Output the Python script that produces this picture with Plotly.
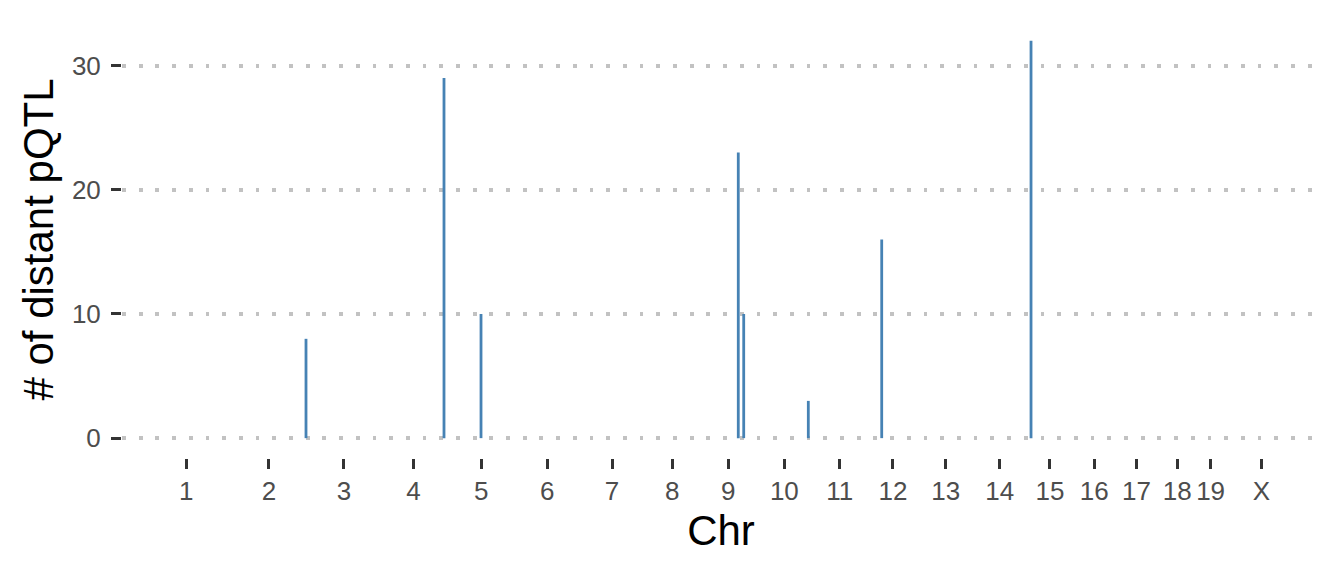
import numpy as np
import plotly.graph_objects as go

# chromosome lengths (Mb), in order
chroms = ["1", "2", "3", "4", "5", "6", "7", "8", "9", "10",
          "11", "12", "13", "14", "15", "16", "17", "18", "19", "X"]
chr_len = [195, 182, 160, 157, 152, 150, 145, 130, 125, 131,
           122, 120, 121, 125, 104, 98, 95, 91, 61, 171]

# hotspots: chromosome, position within chromosome (Mb), # of distant pQTL
hot_chr = ["2", "4", "5", "9", "9", "10", "12", "15"]
hot_pos = [175.6, 148.3, 75.7, 85.4, 97.8, 120.1, 34.5, 9.0]
hot_n = [8, 29, 10, 23, 10, 3, 16, 32]

# cumulative genome coordinates
chr_start = dict(zip(chroms, np.concatenate([[0], np.cumsum(chr_len)[:-1]])))
chr_mid = [chr_start[c] + l / 2 for c, l in zip(chroms, chr_len)]
hot_x = [chr_start[c] + p for c, p in zip(hot_chr, hot_pos)]

xs, ys = [], []
for x, n in zip(hot_x, hot_n):
    xs += [x, x, None]
    ys += [0, n, None]

fig = go.Figure()
fig.add_trace(go.Scatter(x=xs, y=ys, mode="lines",
                         line=dict(color="#4682B4", width=2.8),
                         showlegend=False, hoverinfo="skip"))

font = "Liberation Sans, Arial, Helvetica, sans-serif"

fig.update_layout(
    width=1344, height=576,
    margin=dict(l=114, r=32, t=13, b=126),
    plot_bgcolor="white", paper_bgcolor="white",
    font=dict(family=font),
    xaxis=dict(
        range=[-49, 2683],
        tickmode="array", tickvals=chr_mid, ticktext=chroms,
        showgrid=False, zeroline=False, showline=False,
        ticks="outside", ticklen=10, tickwidth=3, tickcolor="#333333",
        tickfont=dict(size=26, color="#4D4D4D"),
        title=dict(text="Chr", font=dict(size=42, color="black"), standoff=10),
    ),
    yaxis=dict(
        range=[-1.6, 33.6],
        tickvals=[0, 10, 20, 30],
        showgrid=True, gridcolor="#C2C2C2", gridwidth=3.8, griddash="3.8px,12.9px",
        zeroline=False, showline=False,
        ticks="outside", ticklen=10, tickwidth=3, tickcolor="#333333",
        ticklabelstandoff=5,
        tickfont=dict(size=26, color="#4D4D4D"),
        title=dict(text="# of distant pQTL", font=dict(size=42, color="black"), standoff=5),
    ),
)

fig.write_html("out.html")
